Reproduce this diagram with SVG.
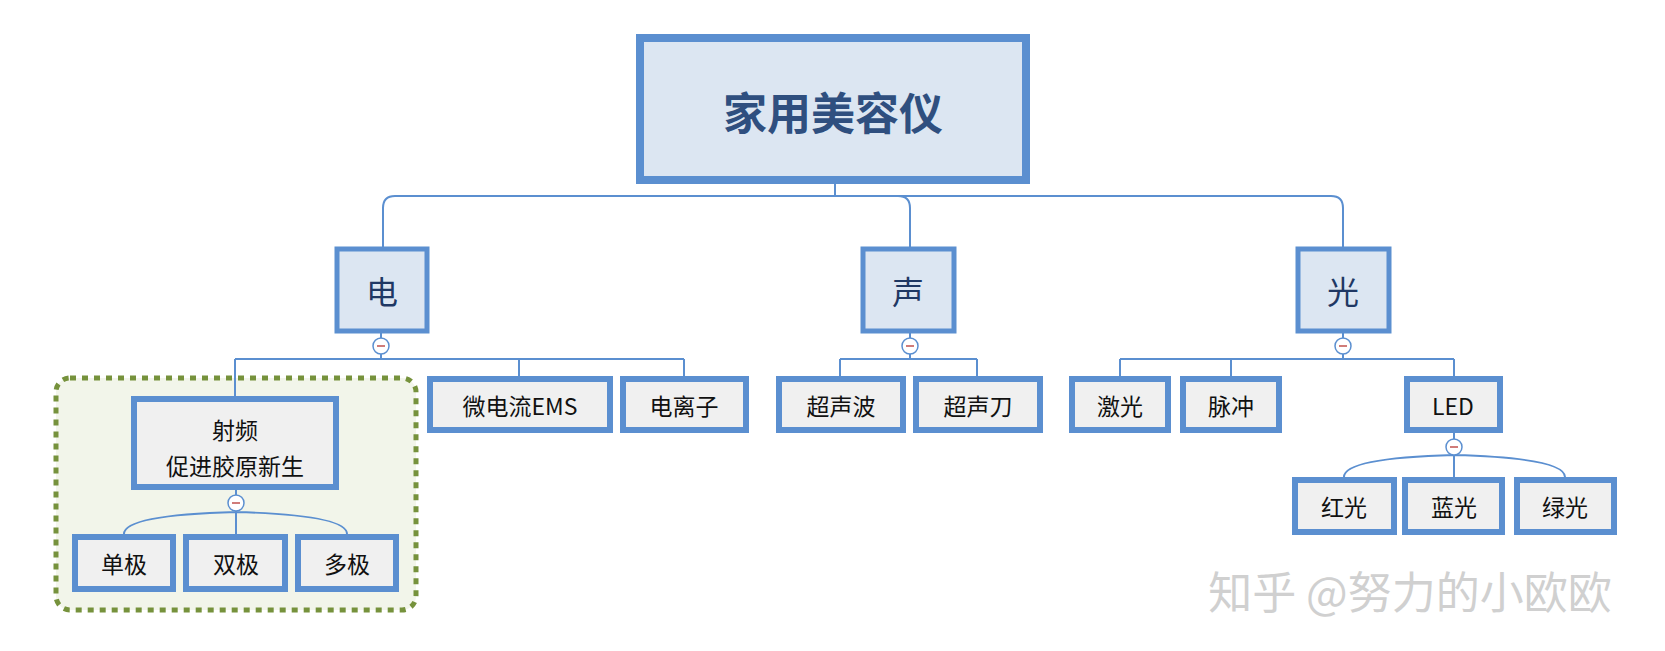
<svg xmlns="http://www.w3.org/2000/svg" width="1665" height="651" viewBox="0 0 1665 651">
<style>
.box{fill:#f0f0f0;stroke:#5b8fd0;stroke-width:6}
.l1{fill:#dce6f2;stroke:#5b8fd0;stroke-width:5}
.root{fill:#dce6f2;stroke:#5b8fd0;stroke-width:8}
.t{font-family:"Noto Sans CJK SC","Liberation Sans",sans-serif;font-size:23px;fill:#111;text-anchor:middle;dominant-baseline:central}
.t1{font-family:"Noto Sans CJK SC",sans-serif;font-size:32px;fill:#1f3864;text-anchor:middle;dominant-baseline:central}
.c{fill:none;stroke:#5b8fd0;stroke-width:2}
.btn{fill:#fff;stroke:#5b8fd0;stroke-width:1.5}
.m{stroke:#c0504d;stroke-width:1.5}
</style>
<rect width="1665" height="651" fill="#fff"/>
<g id="group-rf"><rect x="56" y="378" width="360" height="232" rx="14" fill="#f2f5ea" stroke="#76923c" stroke-width="5" stroke-dasharray="6,6"/></g>
<g id="connectors">
<path class="c" d="M835 182V196M383 247V208Q383 196 395 196H1331Q1343 196 1343 208V247M898 196Q910 196 910 208V247"/>
<path class="c" d="M381 333V359M235 359H684M235 359V396M519 359V376M684 359V376"/>
<path class="c" d="M910 333V359M840 359H977M840 359V376M977 359V376"/>
<path class="c" d="M1343 333V359M1120 359H1454M1120 359V376M1231 359V376M1454 359V376"/>
<path class="c" d="M1454 433V477M1454 455Q1344 458 1344 477M1454 455Q1565 458 1565 477"/>
<path class="c" d="M236 490V534M236 512Q124 515 124 534M236 512Q347 515 347 534"/>
</g>
<g id="root"><rect class="root" x="640" y="38" width="386" height="142"/><text x="833" y="111" style="font-family:'Noto Sans CJK SC',sans-serif;font-size:44px;font-weight:bold;fill:#2f4f7f;text-anchor:middle;dominant-baseline:central">家用美容仪</text></g>
<g id="n-dian"><rect class="l1" x="337" y="249" width="90" height="82"/><text class="t1" x="382" y="290">电</text></g>
<g id="n-sheng"><rect class="l1" x="863" y="249" width="91" height="82"/><text class="t1" x="908" y="290">声</text></g>
<g id="n-guang"><rect class="l1" x="1298" y="249" width="91" height="82"/><text class="t1" x="1343" y="290">光</text></g>
<g id="btns">
<circle class="btn" cx="381" cy="346" r="8"/><line class="m" x1="377" y1="346" x2="385" y2="346"/>
<circle class="btn" cx="910" cy="346" r="8"/><line class="m" x1="906" y1="346" x2="914" y2="346"/>
<circle class="btn" cx="1343" cy="346" r="8"/><line class="m" x1="1339" y1="346" x2="1347" y2="346"/>
<circle class="btn" cx="1454" cy="447" r="8"/><line class="m" x1="1450" y1="447" x2="1458" y2="447"/>
<circle class="btn" cx="236" cy="503" r="8"/><line class="m" x1="232" y1="503" x2="240" y2="503"/>
</g>
<g id="n-shepin"><rect class="box" x="134" y="399" width="202" height="88"/><text class="t" x="235" y="429">射频</text><text class="t" x="235" y="465">促进胶原新生</text></g>
<g id="n-danji"><rect class="box" x="75" y="537" width="98" height="52"/><text class="t" x="124" y="563">单极</text></g>
<g id="n-shuangji"><rect class="box" x="186" y="537" width="99" height="52"/><text class="t" x="236" y="563">双极</text></g>
<g id="n-duoji"><rect class="box" x="298" y="537" width="98" height="52"/><text class="t" x="347" y="563">多极</text></g>
<g id="n-ems"><rect class="box" x="430" y="379" width="180" height="51"/><text class="t" x="520" y="405">微电流EMS</text></g>
<g id="n-dianlizi"><rect class="box" x="623" y="379" width="123" height="51"/><text class="t" x="684" y="405">电离子</text></g>
<g id="n-csb"><rect class="box" x="779" y="379" width="124" height="51"/><text class="t" x="841" y="405">超声波</text></g>
<g id="n-csd"><rect class="box" x="916" y="379" width="124" height="51"/><text class="t" x="978" y="405">超声刀</text></g>
<g id="n-jg"><rect class="box" x="1072" y="379" width="96" height="51"/><text class="t" x="1120" y="405">激光</text></g>
<g id="n-mc"><rect class="box" x="1183" y="379" width="96" height="51"/><text class="t" x="1231" y="405">脉冲</text></g>
<g id="n-led"><rect class="box" x="1407" y="379" width="93" height="51"/><text class="t" x="1453" y="405">LED</text></g>
<g id="n-hong"><rect class="box" x="1295" y="480" width="99" height="52"/><text class="t" x="1344" y="506">红光</text></g>
<g id="n-lan"><rect class="box" x="1405" y="480" width="97" height="52"/><text class="t" x="1454" y="506">蓝光</text></g>
<g id="n-lv"><rect class="box" x="1517" y="480" width="97" height="52"/><text class="t" x="1565" y="506">绿光</text></g>
<text x="1410" y="590" style="font-family:'Noto Sans CJK SC',sans-serif;font-size:44px;fill:#d0d0d0;text-anchor:middle;dominant-baseline:central">知乎 @努力的小欧欧</text>
</svg>
